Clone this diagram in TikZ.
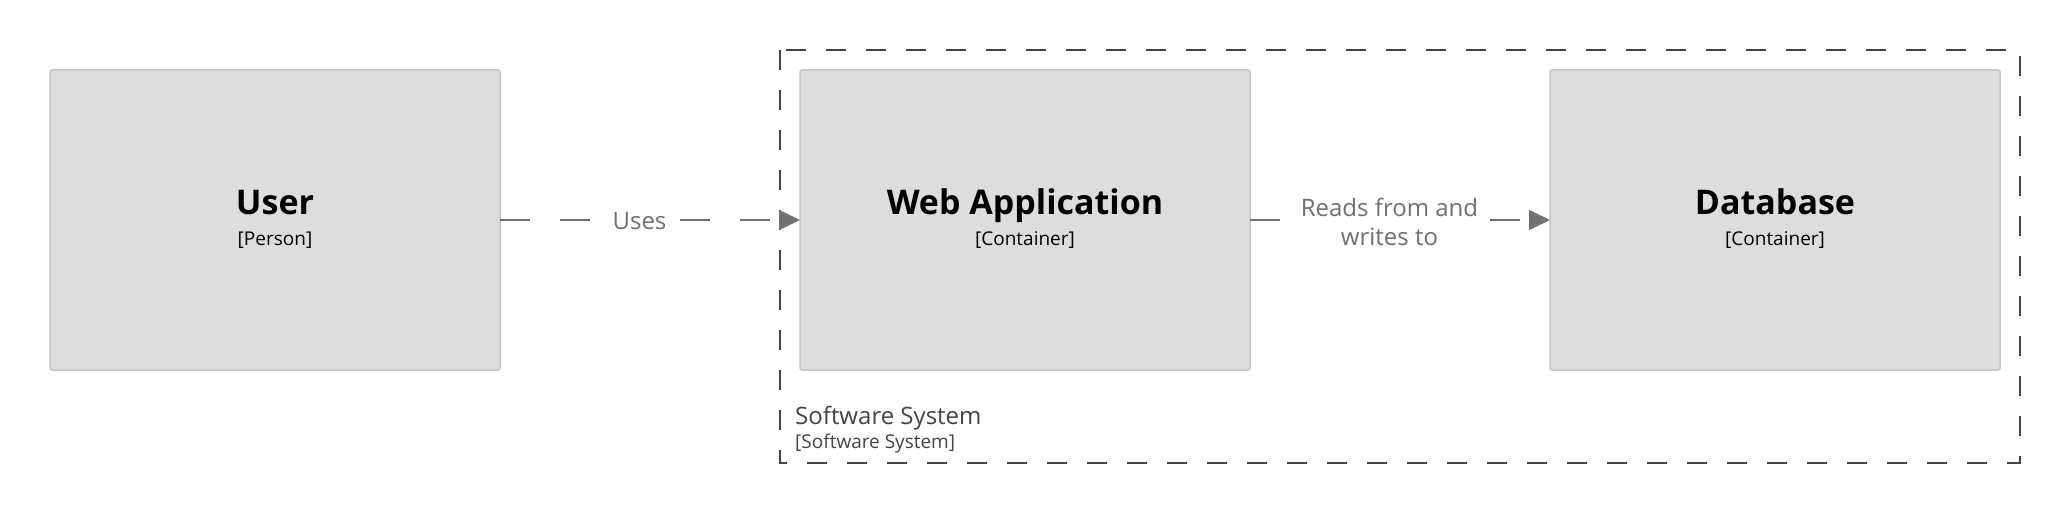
\documentclass[tikz,border=0pt]{standalone}
\usepackage{fontspec}
\setmainfont{Open Sans}
\usetikzlibrary{positioning,arrows.meta}
\definecolor{boxfill}{HTML}{DDDDDD}
\definecolor{boxline}{HTML}{C6C6C6}
\definecolor{relgray}{HTML}{707070}
\definecolor{bndgray}{HTML}{444444}
\tikzset{%
  element/.style  = {shape=rectangle, draw=boxline, fill=boxfill,%
                     line width=1.5pt, rounded corners=2pt, outer sep=0pt,%
                     minimum width=450pt, minimum height=300pt},%
  elname/.style   = {anchor=base, inner sep=0pt,%
                     font=\fontsize{34}{40}\selectfont\bfseries},%
  eldesc/.style   = {anchor=base, inner sep=0pt,%
                     font=\fontsize{19}{23}\selectfont},%
  rel/.style      = {draw=relgray, line width=1.4pt,%
                     dash pattern=on 30pt off 30pt,%
                     -{Triangle[length=21pt,width=20pt]}},%
  rellabel/.style = {fill=white, text=relgray, align=center, yshift=-1.5pt,%
                     inner sep=6pt, font=\fontsize{24}{29}\selectfont},%
  boundary/.style = {draw=bndgray, line width=2pt,%
                     dash pattern=on 20pt off 20pt}%
}

\begin{document}
\begin{tikzpicture}[x=1pt, y=-1pt,
	bndtext/.style = {anchor=base west, inner sep=0pt, text=bndgray}]
	\useasboundingbox (0,0) rectangle (2070,513);
	\begin{scope}
		\draw[boundary] (780,50) rectangle (2020,463);
		\node at (795,424) [bndtext, font=\fontsize{24}{29}\selectfont]
			(sysname) {Software System};
		\node at (795,448) [bndtext, font=\fontsize{19}{23}\selectfont]
			(systype) {[Software System]};
	\end{scope}
	\begin{scope}
		\node at (275,220) [element] (user) {};
		\node [element, right=300pt of user] (webapp) {};
		\node [element, right=300pt of webapp] (database) {};
		\node at ([yshift=5pt]user.center) [elname] (username) {User};
		\node at ([yshift=-26pt]user.center) [eldesc] (usertype) {[Person]};
		\node at ([yshift=5pt]webapp.center) [elname] (webappname) {Web Application};
		\node at ([yshift=-26pt]webapp.center) [eldesc] (webapptype) {[Container]};
		\node at ([yshift=5pt]database.center) [elname] (databasename) {Database};
		\node at ([yshift=-26pt]database.center) [eldesc] (databasetype) {[Container]};
	\end{scope}
	\draw[rel] (user) -- node [rellabel, pos=0.465] {Uses} (webapp);
	\draw[rel] (webapp) -- node [rellabel, pos=0.465]
		{Reads from and\\writes to} (database);
\end{tikzpicture}
\end{document}
